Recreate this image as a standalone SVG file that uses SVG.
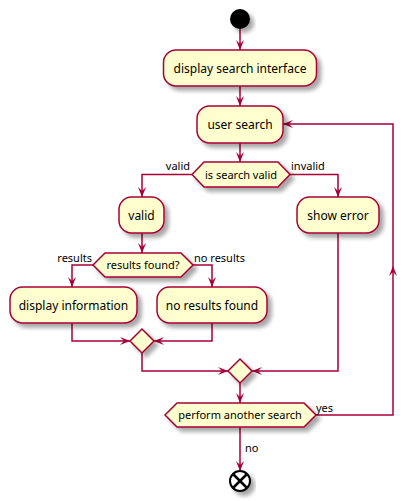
<svg xmlns="http://www.w3.org/2000/svg" width="417" height="501" viewBox="0 0 417 501">
<defs>
<filter id="sh" x="-20%" y="-20%" width="150%" height="160%">
<feGaussianBlur in="SourceAlpha" stdDeviation="2"/>
<feOffset dx="4" dy="4" result="b"/>
<feComponentTransfer><feFuncA type="linear" slope="0.35"/></feComponentTransfer>
<feMerge><feMergeNode/><feMergeNode in="SourceGraphic"/></feMerge>
</filter>
<marker id="ar" markerUnits="userSpaceOnUse" markerWidth="11" markerHeight="9" refX="10" refY="4" orient="auto" overflow="visible">
<path d="M0,0 L10,4 L0,8 L4,4 Z" fill="#A80036"/>
</marker>
<style>
.n{fill:#FEFECE;stroke:#A80036;stroke-width:1.5;filter:url(#sh)}
.t{font-family:"Noto Sans","DejaVu Sans",sans-serif;font-size:12px;fill:#000;text-anchor:middle}
.l{font-family:"Noto Sans","DejaVu Sans",sans-serif;font-size:11px;fill:#000}
.c{fill:none;stroke:#A80036;stroke-width:1.5;marker-end:url(#ar)}
</style>
</defs>
<rect width="417" height="501" fill="#FFFFFF"/>
<g id="connectors">
<path class="c" d="M240,29 V50"/>
<path class="c" d="M240,86 V106"/>
<path class="c" d="M240,143 V162"/>
<path class="c" d="M192,174.5 H142 V197"/>
<path class="c" d="M290,174.5 H338 V197"/>
<path class="c" d="M142,233 V253"/>
<path class="c" d="M93,265 H72 V287"/>
<path class="c" d="M193,265 H212 V287"/>
<path class="c" d="M72,323 V341 H130"/>
<path class="c" d="M212,323 V341 H154"/>
<path class="c" d="M142,353 V371 H228"/>
<path class="c" d="M338,233 V371 H252"/>
<path class="c" d="M240,383 V403"/>
<path class="c" d="M240,427 V471"/>
<path class="c" d="M316,415 H393 V266"/>
<path class="c" d="M393,266 V124 H283"/>
<text class="l" x="190" y="170" text-anchor="end">valid</text>
<text class="l" x="291" y="170">invalid</text>
<text class="l" x="92" y="262" text-anchor="end">results</text>
<text class="l" x="194" y="262">no results</text>
<text class="l" x="316" y="412">yes</text>
<text class="l" x="245" y="452">no</text>
</g>
<g id="start"><circle cx="240" cy="19" r="10" fill="#000" filter="url(#sh)"/></g>
<g id="display-search-interface"><rect class="n" x="163.5" y="50" width="153" height="36" rx="12.5"/><text class="t" x="240" y="72.5">display search interface</text></g>
<g id="user-search"><rect class="n" x="197" y="106" width="86" height="37" rx="12.5"/><text class="t" x="240" y="129">user search</text></g>
<g id="is-search-valid"><polygon class="n" points="192,174.5 204,162 278,162 290,174.5 278,187 204,187"/><text class="t" x="241" y="179" style="font-size:11px">is search valid</text></g>
<g id="valid"><rect class="n" x="119" y="197" width="45" height="36" rx="12.5"/><text class="t" x="141.5" y="219.5">valid</text></g>
<g id="show-error"><rect class="n" x="297" y="197" width="82" height="36" rx="12.5"/><text class="t" x="338" y="219.5">show error</text></g>
<g id="results-found"><polygon class="n" points="93,265 105,253 181,253 193,265 181,277 105,277"/><text class="t" x="143" y="269" style="font-size:11px">results found?</text></g>
<g id="display-information"><rect class="n" x="10" y="287" width="127" height="36" rx="12.5"/><text class="t" x="73.5" y="309.5">display information</text></g>
<g id="no-results-found"><rect class="n" x="157" y="287" width="110" height="36" rx="12.5"/><text class="t" x="212" y="309.5">no results found</text></g>
<g id="merge1"><polygon class="n" points="142,329 154,341 142,353 130,341"/></g>
<g id="merge2"><polygon class="n" points="240,359 252,371 240,383 228,371"/></g>
<g id="perform-another-search"><polygon class="n" points="165,415 177,403 304,403 316,415 304,427 177,427"/><text class="t" x="240" y="419" style="font-size:11px">perform another search</text></g>
<g id="end" filter="url(#sh)"><circle cx="240" cy="481" r="10" fill="#FFFFFF" stroke="#000" stroke-width="2"/><path d="M233.5,474.5 L246.5,487.5 M246.5,474.5 L233.5,487.5" stroke="#000" stroke-width="2.5"/></g>
</svg>
